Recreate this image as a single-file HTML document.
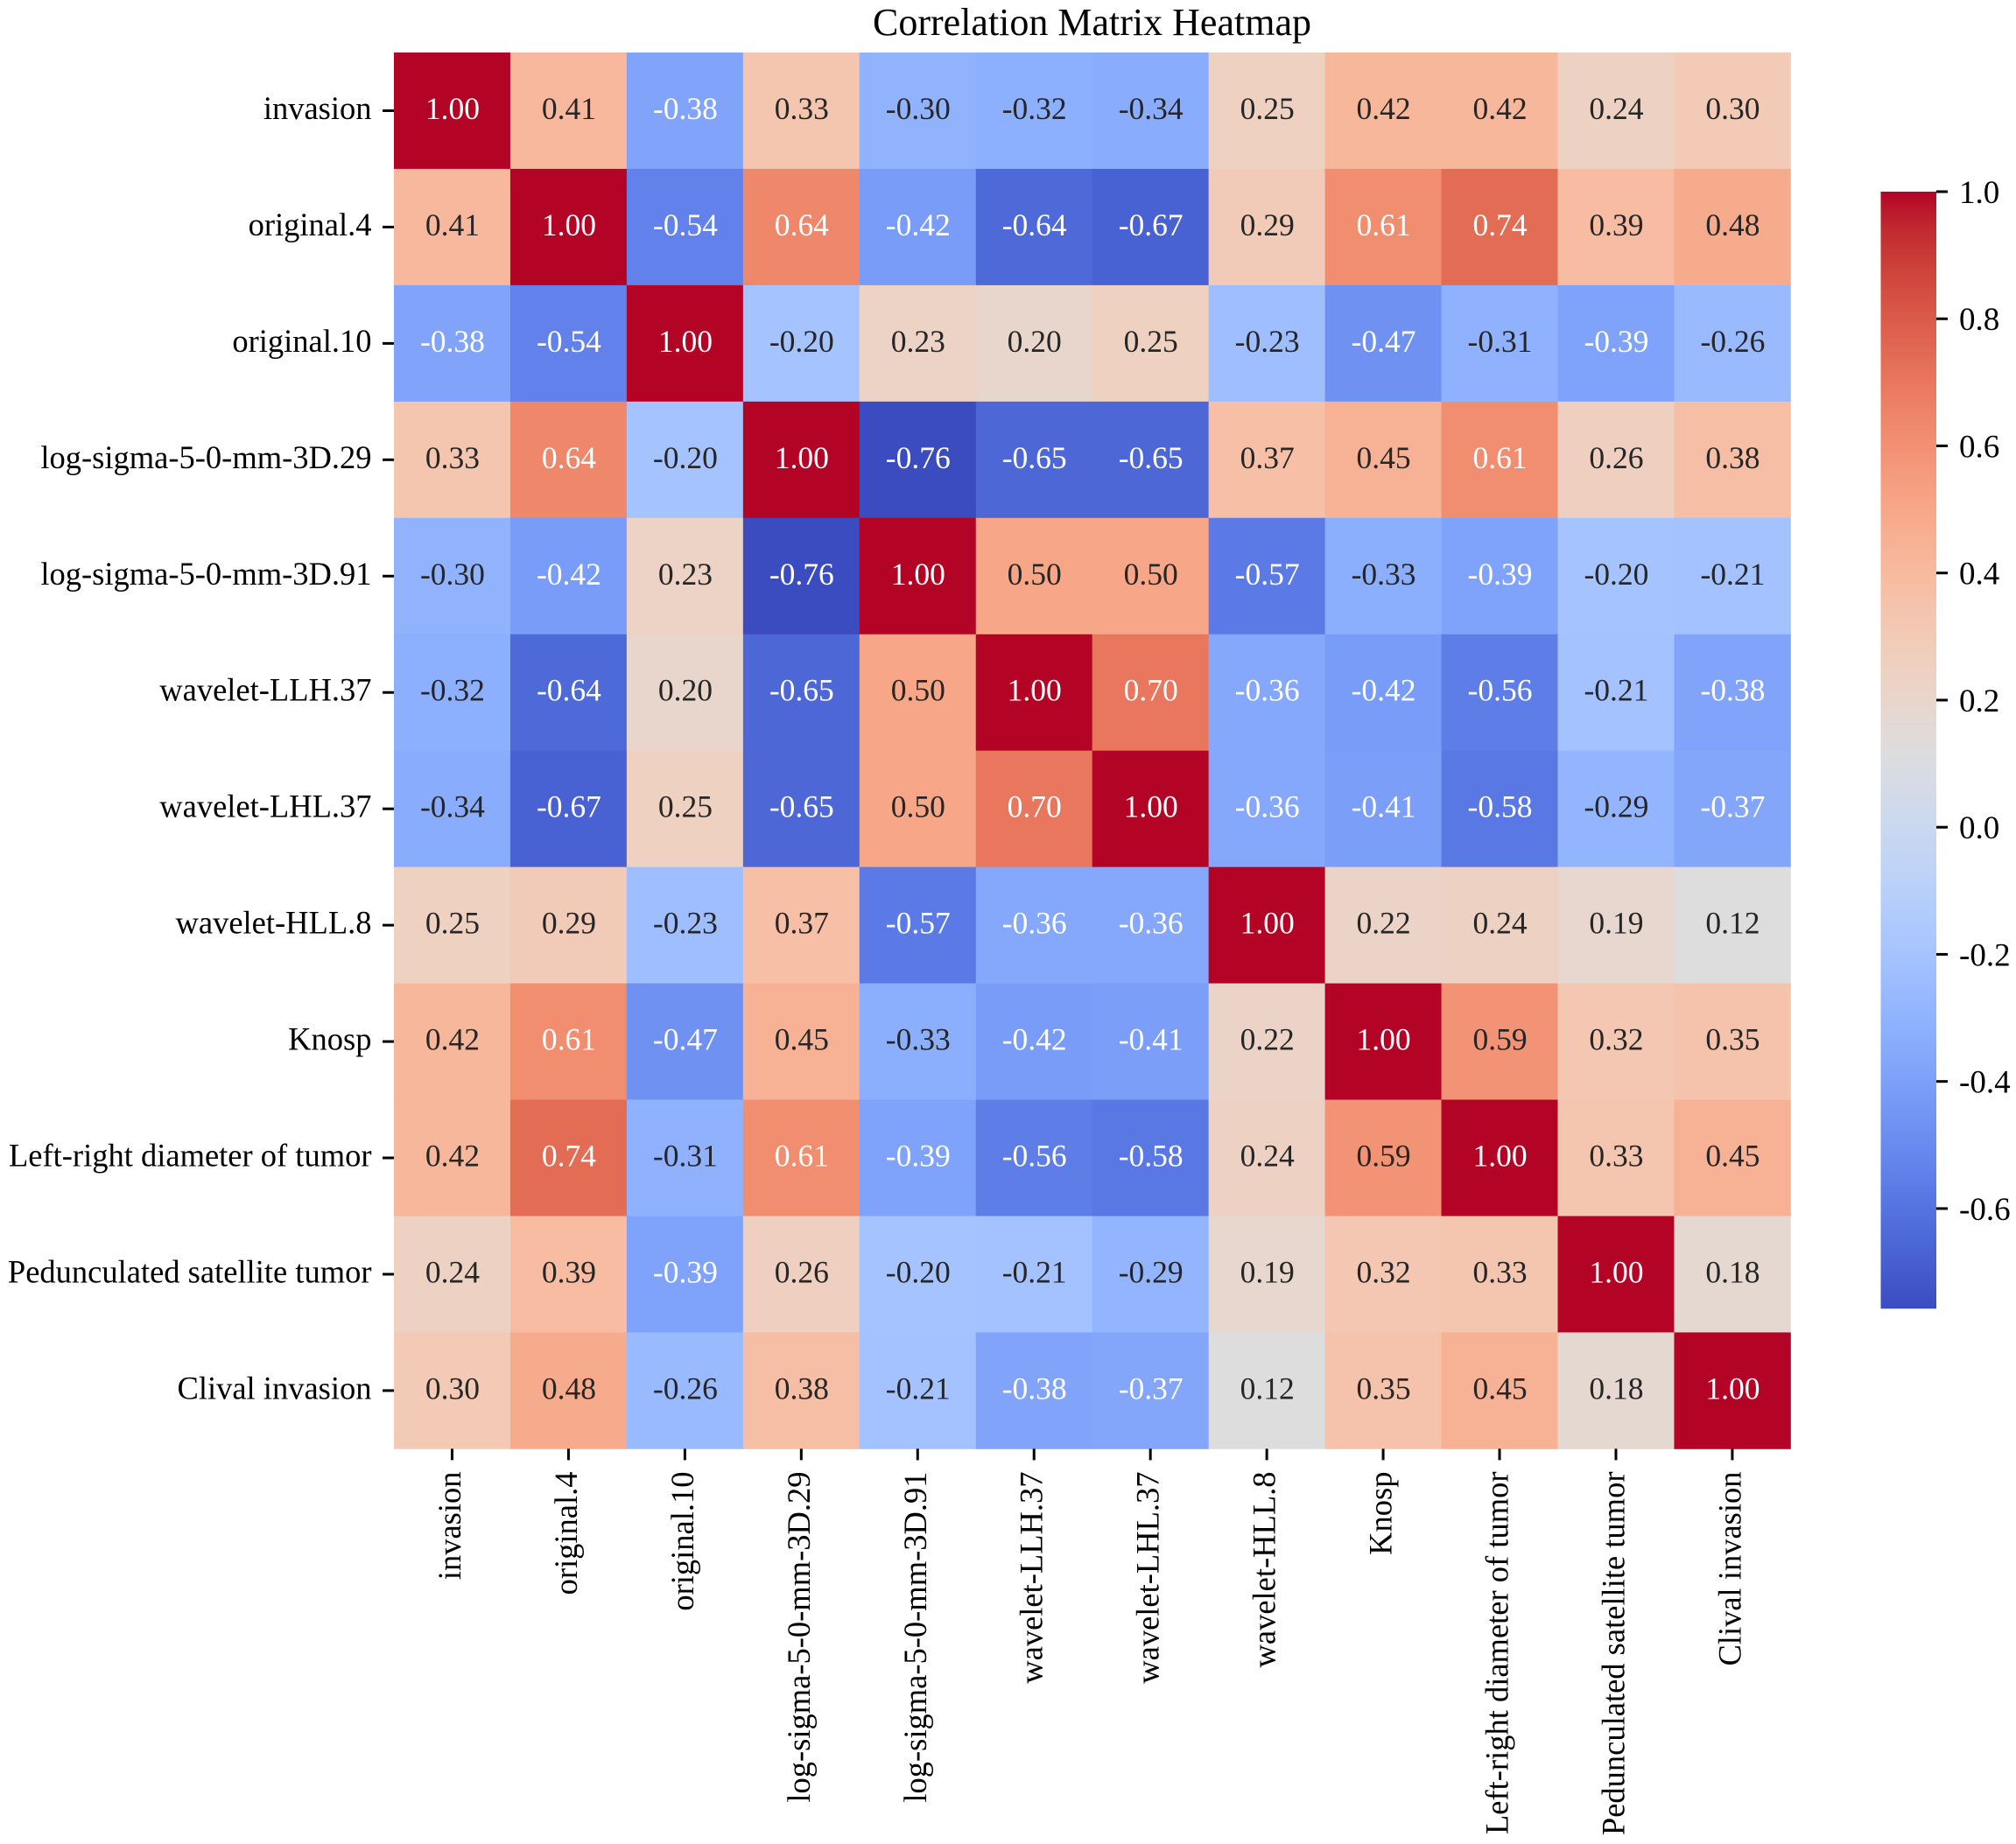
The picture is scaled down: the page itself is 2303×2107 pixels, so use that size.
<!DOCTYPE html>
<html lang="en">
<head>
<meta charset="utf-8">
<title>Correlation Matrix Heatmap</title>
<style>
  html, body { margin: 0; padding: 0; background: #fff; }
  svg { display: block; }
  text { font-family: "Liberation Serif", "Times New Roman", serif; }
</style>
</head>
<body>
<svg id="chart" xmlns="http://www.w3.org/2000/svg" width="2303" height="2107" viewBox="0 0 2303 2107">
  <rect x="0" y="0" width="2303" height="2107" fill="#ffffff"/>
  <text x="1247.5" y="40" text-anchor="middle" font-size="44" fill="#000">Correlation Matrix Heatmap</text>
  <g id="cells"></g>
  <g id="annotations"></g>
  <g id="y-axis"></g>
  <g id="x-axis"></g>
  <g id="colorbar"></g>
</svg>
<script>
const featureLabels = [
  "invasion", "original.4", "original.10", "log-sigma-5-0-mm-3D.29",
  "log-sigma-5-0-mm-3D.91", "wavelet-LLH.37", "wavelet-LHL.37", "wavelet-HLL.8",
  "Knosp", "Left-right diameter of tumor", "Pedunculated satellite tumor", "Clival invasion"
];
const correlationValues = [
  [1.00, 0.41, -0.38, 0.33, -0.30, -0.32, -0.34, 0.25, 0.42, 0.42, 0.24, 0.30],
  [0.41, 1.00, -0.54, 0.64, -0.42, -0.64, -0.67, 0.29, 0.61, 0.74, 0.39, 0.48],
  [-0.38, -0.54, 1.00, -0.20, 0.23, 0.20, 0.25, -0.23, -0.47, -0.31, -0.39, -0.26],
  [0.33, 0.64, -0.20, 1.00, -0.76, -0.65, -0.65, 0.37, 0.45, 0.61, 0.26, 0.38],
  [-0.30, -0.42, 0.23, -0.76, 1.00, 0.50, 0.50, -0.57, -0.33, -0.39, -0.20, -0.21],
  [-0.32, -0.64, 0.20, -0.65, 0.50, 1.00, 0.70, -0.36, -0.42, -0.56, -0.21, -0.38],
  [-0.34, -0.67, 0.25, -0.65, 0.50, 0.70, 1.00, -0.36, -0.41, -0.58, -0.29, -0.37],
  [0.25, 0.29, -0.23, 0.37, -0.57, -0.36, -0.36, 1.00, 0.22, 0.24, 0.19, 0.12],
  [0.42, 0.61, -0.47, 0.45, -0.33, -0.42, -0.41, 0.22, 1.00, 0.59, 0.32, 0.35],
  [0.42, 0.74, -0.31, 0.61, -0.39, -0.56, -0.58, 0.24, 0.59, 1.00, 0.33, 0.45],
  [0.24, 0.39, -0.39, 0.26, -0.20, -0.21, -0.29, 0.19, 0.32, 0.33, 1.00, 0.18],
  [0.30, 0.48, -0.26, 0.38, -0.21, -0.38, -0.37, 0.12, 0.35, 0.45, 0.18, 1.00]
];
const colorbarTicks = [1.0, 0.8, 0.6, 0.4, 0.2, 0.0, -0.2, -0.4, -0.6];
const colorDomain = [-0.7575, 1.0];

/* coolwarm colormap, evenly spaced RGB stops */
const coolwarm = [
  [59,76,192],[68,90,204],[77,104,215],[87,117,225],[98,130,234],[108,142,241],
  [119,154,247],[130,165,251],[141,176,254],[152,185,255],[163,194,255],[174,201,253],
  [184,208,249],[194,213,244],[204,217,238],[213,219,230],[221,221,221],[229,216,209],
  [236,211,197],[241,204,185],[245,196,173],[247,187,160],[247,177,148],[247,166,135],
  [244,154,123],[241,141,111],[236,127,99],[229,112,88],[222,96,77],[213,80,66],
  [203,62,56],[192,40,47],[180,4,38]
];

const NS = "http://www.w3.org/2000/svg";
const plot = { left: 450, top: 60, cell: 132.95 };
const bar = { left: 2148.5, right: 2212, top: 219, bottom: 1495.3 };
const TICK = 13;

function xScale(col) { return plot.left + col * plot.cell; }
function yScale(row) { return plot.top + row * plot.cell; }
function colorbarY(v) {
  return bar.top + (colorDomain[1] - v) / (colorDomain[1] - colorDomain[0]) * (bar.bottom - bar.top);
}
function rgbFor(v) {
  let t = (v - colorDomain[0]) / (colorDomain[1] - colorDomain[0]);
  t = Math.max(0, Math.min(1, t));
  const p = t * (coolwarm.length - 1);
  const i = Math.min(coolwarm.length - 2, Math.floor(p));
  const f = p - i;
  return [0, 1, 2].map(k => coolwarm[i][k] + (coolwarm[i + 1][k] - coolwarm[i][k]) * f);
}
function cssColor(c) { return "rgb(" + c.map(Math.round).join(",") + ")"; }
function luminance(c) {
  const l = c.map(x => { x /= 255; return x <= 0.03928 ? x / 12.92 : Math.pow((x + 0.055) / 1.055, 2.4); });
  return 0.2126 * l[0] + 0.7152 * l[1] + 0.0722 * l[2];
}
function make(tag, attrs, parent) {
  const el = document.createElementNS(NS, tag);
  for (const k in attrs) el.setAttribute(k, attrs[k]);
  parent.appendChild(el);
  return el;
}

const cellsG = document.getElementById("cells");
const annG = document.getElementById("annotations");
const yG = document.getElementById("y-axis");
const xG = document.getElementById("x-axis");
const cbG = document.getElementById("colorbar");

correlationValues.forEach((rowVals, r) => {
  rowVals.forEach((v, c) => {
    const col = rgbFor(v);
    const rect = make("rect", {
      x: xScale(c), y: yScale(r), width: plot.cell + 0.4, height: plot.cell + 0.4,
      fill: cssColor(col)
    }, cellsG);
    
    
    const t = make("text", {
      x: xScale(c) + plot.cell / 2 + 0.5, y: yScale(r) + plot.cell / 2 + 9.5,
      "text-anchor": "middle", "font-size": 35.5,
      fill: luminance(col) > 0.408 ? "#262626" : "#ffffff"
    }, annG);
    
    
    t.textContent = v.toFixed(2);
  });
});

featureLabels.forEach((label, i) => {
  const yc = yScale(i) + plot.cell / 2;
  const ytick = make("line", { x1: plot.left - TICK, x2: plot.left, y1: yc, y2: yc, stroke: "#000", "stroke-width": 3 }, yG);
  
  
  const ylab = make("text", { x: 424.5, y: yc + 9.5, "text-anchor": "end", "font-size": 36.5, fill: "#000" }, yG);
  
  
  ylab.textContent = label;

  const xc = xScale(i) + plot.cell / 2;
  const bottom = yScale(featureLabels.length);
  const xtick = make("line", { x1: xc, x2: xc, y1: bottom, y2: bottom + TICK, stroke: "#000", "stroke-width": 3 }, xG);
  
  
  const bx = xc + 9.5, by = 1681.5;
  const xlab = make("text", {
    x: bx, y: by, "text-anchor": "end", "font-size": 36.5, fill: "#000",
    transform: "rotate(-90 " + bx + " " + by + ")"
  }, xG);
  
  
  xlab.textContent = label;
});

/* colorbar gradient */
const defs = make("defs", {}, document.getElementById("chart"));
const grad = make("linearGradient", { id: "cbar-gradient", x1: 0, y1: 0, x2: 0, y2: 1 }, defs);
coolwarm.forEach((c, i) => {
  make("stop", { offset: 1 - i / (coolwarm.length - 1), "stop-color": cssColor(c) }, grad);
});
Array.from(grad.children).reverse().forEach(s => grad.appendChild(s));
const cbRect = make("rect", {
  x: bar.left, y: bar.top, width: bar.right - bar.left, height: bar.bottom - bar.top,
  fill: "url(#cbar-gradient)"
}, cbG);



colorbarTicks.forEach(v => {
  const y = colorbarY(v);
  const tick = make("line", { x1: bar.right, x2: bar.right + TICK, y1: y, y2: y, stroke: "#000", "stroke-width": 3 }, cbG);
  
  
  const lab = make("text", { x: 2238, y: y + 13, "font-size": 37, fill: "#000" }, cbG);
  
  
  lab.textContent = v.toFixed(1);
});
</script>
</body>
</html>
